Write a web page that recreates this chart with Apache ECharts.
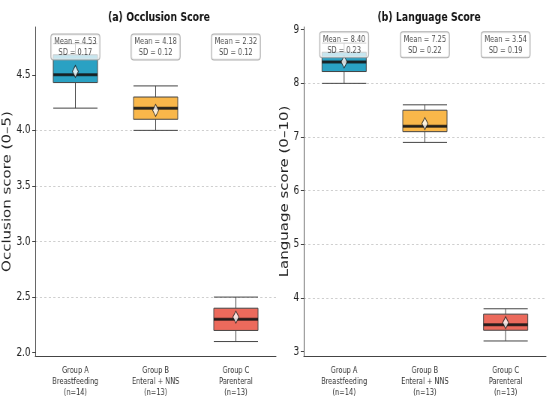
<!DOCTYPE html>
<html><head><meta charset="utf-8">
<script src="https://cdn.jsdelivr.net/npm/echarts@6/dist/echarts.min.js"></script>
<style>
html,body{margin:0;padding:0;background:#fff;overflow:hidden}
#wrap{width:550px;height:404px;overflow:hidden}
#c{width:733px;height:404px;transform:scaleX(0.75);transform-origin:0 0}
</style>
</head><body><div id="wrap"><div id="c"></div></div>
<script>
const categories = ['Group A\nBreastfeeding\n(n=14)', 'Group B\nEnteral + NNS\n(n=13)', 'Group C\nParenteral\n(n=13)'];
const groupColors = ['#2aa1c3', '#f9b74a', '#ec6a5c'];
// [min, Q1, median, Q3, max]
const occlusionBox = [[4.2, 4.43, 4.5, 4.68, 4.78], [4.0, 4.1, 4.2, 4.3, 4.4], [2.1, 2.2, 2.3, 2.4, 2.5]];
const occlusionMean = [4.53, 4.18, 2.32];
const occlusionSD = [0.17, 0.12, 0.12];
const languageBox = [[8.0, 8.22, 8.4, 8.58, 8.75], [6.9, 7.1, 7.2, 7.5, 7.6], [3.2, 3.4, 3.5, 3.7, 3.8]];
const languageMean = [8.40, 7.25, 3.54];
const languageSD = [0.23, 0.22, 0.19];
const occlusionTicks = [2.0, 2.5, 3.0, 3.5, 4.0, 4.5];
const languageTicks = [3, 4, 5, 6, 7, 8, 9];

const font = '"DejaVu Sans", sans-serif';
const chart = echarts.init(document.getElementById('c'));

function yAx(idx, min, max, ticks, name, dec, gap) {
  return {
    type: 'value', gridIndex: idx, min: min, max: max,
    name: name, nameLocation: 'middle', nameGap: gap,
    nameTextStyle: {fontFamily: font, fontSize: 15, color: '#222'},
    axisLine: {show: true, lineStyle: {color: '#444', width: 1}},
    axisTick: {show: true, length: 4, customValues: ticks, lineStyle: {color: '#444'}},
    axisLabel: {customValues: ticks, fontFamily: font, fontSize: 12, color: '#222', margin: 6,
      formatter: v => dec ? v.toFixed(1) : String(v)},
    splitLine: {show: true, showMinLine: false, showMaxLine: false, lineStyle: {type: [3, 3], color: '#cfcfcf', width: 1}}
  };
}
function xAx(idx) {
  return {
    type: 'category', gridIndex: idx, data: categories,
    axisLine: {lineStyle: {color: '#444'}},
    axisTick: {alignWithLabel: true, length: 4, lineStyle: {color: '#444'}},
    axisLabel: {fontFamily: font, fontSize: 8.8, lineHeight: 11, color: '#333', margin: 9, interval: 0}
  };
}
function panelSeries(idx, box, mean, sd, labelY) {
  return [
    {type: 'boxplot', xAxisIndex: idx, yAxisIndex: idx, boxWidth: [59, 59], z: 2,
      data: box.map((d, i) => ({value: d, itemStyle: {color: groupColors[i], borderColor: '#444', borderWidth: 1}})),
      silent: true},
    {type: 'scatter', xAxisIndex: idx, yAxisIndex: idx, symbol: 'rect', symbolSize: [59, 3], z: 3,
      itemStyle: {color: '#111'}, data: box.map((d, i) => [i, d[2]]), silent: true},
    {type: 'scatter', xAxisIndex: idx, yAxisIndex: idx, symbol: 'diamond', symbolSize: [8, 12], z: 4,
      itemStyle: {color: '#fff', borderColor: '#111', borderWidth: 1}, data: mean.map((m, i) => [i, m]), silent: true},
    {type: 'scatter', xAxisIndex: idx, yAxisIndex: idx, symbolSize: 0, z: 10,
      data: mean.map((m, i) => [i, labelY]),
      label: {show: true, position: 'inside', formatter: p => 'Mean = ' + mean[p.dataIndex].toFixed(2) + '\nSD = ' + sd[p.dataIndex].toFixed(2),
        fontFamily: font, fontSize: 8.8, lineHeight: 11, color: '#222',
        backgroundColor: 'rgba(255,255,255,0.92)', borderColor: '#999', borderWidth: 1, borderRadius: 3, padding: [2, 4, 1, 4]},
      silent: true}
  ];
}

chart.setOption({
  animation: false,
  title: [
    {text: '(a) Occlusion Score', left: 207, top: 6, textAlign: 'center', textStyle: {fontFamily: font, fontSize: 12.5, fontWeight: 'bold', color: '#111'}},
    {text: '(b) Language Score', left: 567, top: 6, textAlign: 'center', textStyle: {fontFamily: font, fontSize: 12.5, fontWeight: 'bold', color: '#111'}}
  ],
  grid: [
    {left: 47, right: 365, top: 27, bottom: 48},
    {left: 405, right: 5, top: 27, bottom: 48}
  ],
  xAxis: [xAx(0), xAx(1)],
  yAxis: [
    yAx(0, 1.97, 4.93, occlusionTicks, 'Occlusion score (0–5)', true, 25),
    yAx(1, 2.92, 9.05, languageTicks, 'Language score (0–10)', false, 13)
  ],
  series: [].concat(panelSeries(0, occlusionBox, occlusionMean, occlusionSD, 4.75),
                    panelSeries(1, languageBox, languageMean, languageSD, 8.72))
});
</script></body></html>
